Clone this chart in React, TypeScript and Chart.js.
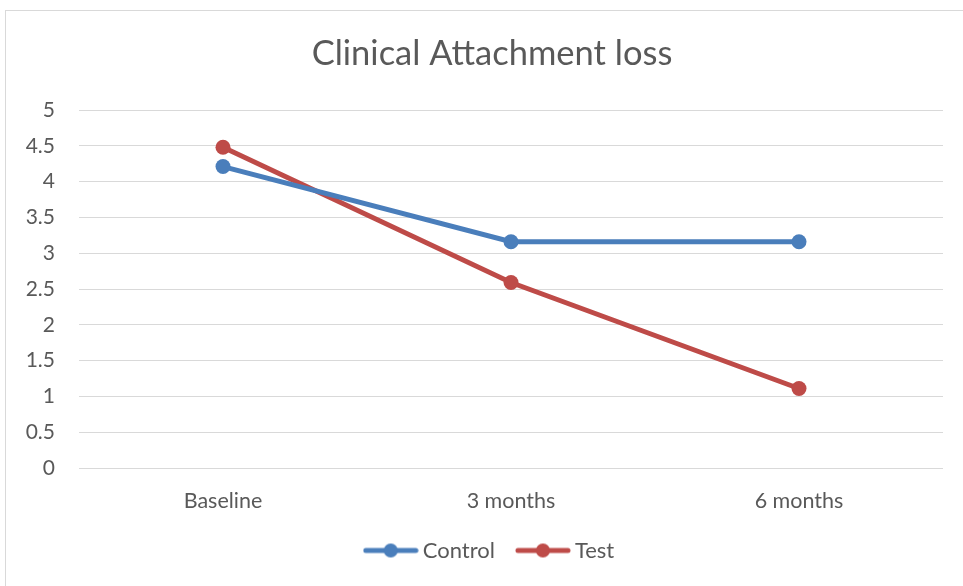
import React, { useEffect, useRef } from "react";
import { Chart, registerables } from "chart.js";

Chart.register(...registerables);

const categories = ["Baseline", "3 months", "6 months"];
const controlValues = [4.21, 3.16, 3.16];
const testValues = [4.48, 2.59, 1.11];
const seriesNames = ["Control", "Test"];
const seriesColors = ["#4A7EBB", "#BE4B48"];
const chartTitle = "Clinical Attachment loss";
const yMin = 0;
const yMax = 5;
const yStep = 0.5;

const FONT = "Lato, 'Open Sans', sans-serif";
const TEXT = "#595959";
const LEFT_PAD = 41;
const PLOT_LEFT = 79;
const Y_TICK_SIZE = 21;
const Y_LABEL_GAP = 24;

function legendIcon(color: string): HTMLCanvasElement {
  const c = document.createElement("canvas");
  c.width = 56;
  c.height = 16;
  const ctx = c.getContext("2d")!;
  ctx.strokeStyle = color;
  ctx.lineWidth = 5;
  ctx.lineCap = "round";
  ctx.beginPath();
  ctx.moveTo(3, 8);
  ctx.lineTo(53, 8);
  ctx.stroke();
  ctx.fillStyle = color;
  ctx.beginPath();
  ctx.arc(28, 8, 7, 0, Math.PI * 2);
  ctx.fill();
  return c;
}

function widestTick(): number {
  const c = document.createElement("canvas");
  const ctx = c.getContext("2d")!;
  ctx.font = `${Y_TICK_SIZE}px ${FONT}`;
  let w = 0;
  for (let v = yMin; v <= yMax + 1e-9; v += yStep) {
    w = Math.max(w, ctx.measureText(String(Math.round(v * 10) / 10)).width);
  }
  return w;
}

export default function App() {
  const ref = useRef<HTMLCanvasElement | null>(null);

  useEffect(() => {
    document.body.style.margin = "0";
    const icons = seriesColors.map(legendIcon);
    const widest = widestTick();
    const chart = new Chart(ref.current!, {
      type: "line",
      data: {
        labels: categories,
        datasets: [controlValues, testValues].map((vals, i) => ({
          label: seriesNames[i],
          data: vals,
          borderColor: seriesColors[i],
          backgroundColor: seriesColors[i],
          borderWidth: 5,
          pointStyle: "circle",
          pointRadius: 7.5,
          pointHoverRadius: 7.5,
          pointBorderWidth: 0,
          tension: 0,
        })),
      },
      options: {
        responsive: false,
        animation: false,
        devicePixelRatio: 1,
        layout: { padding: { left: LEFT_PAD, right: 20, top: 0, bottom: 14.5 } },
        plugins: {
          title: {
            display: true,
            text: chartTitle,
            color: TEXT,
            font: { family: FONT, size: 34.5, weight: "normal" },
            padding: { top: 33, bottom: 35.6 },
          },
          legend: {
            position: "bottom",
            labels: {
              color: TEXT,
              font: { family: FONT, size: 22 },
              usePointStyle: true,
              pointStyleWidth: 42,
              padding: 27,
              generateLabels: () =>
                seriesNames.map((n, i) => ({
                  text: n,
                  fillStyle: seriesColors[i],
                  strokeStyle: seriesColors[i],
                  pointStyle: icons[i] as any,
                  datasetIndex: i,
                  hidden: false,
                  lineWidth: 0,
                  fontColor: TEXT,
                })),
            },
          },
          tooltip: { enabled: false },
        },
        scales: {
          x: {
            offset: true,
            afterFit: (s: any) => {
              s.height = 44.5;
            },
            grid: { display: false, drawTicks: false },
            border: { display: false },
            ticks: { color: TEXT, font: { family: FONT, size: 21.5 }, padding: 20 },
          },
          y: {
            min: yMin,
            max: yMax,
            afterFit: (s: any) => {
              s.width = PLOT_LEFT - LEFT_PAD;
            },
            grid: { color: "#D9D9D9", lineWidth: 1, drawTicks: false },
            border: { display: false },
            ticks: {
              stepSize: yStep,
              mirror: true,
              crossAlign: "far",
              color: TEXT,
              font: { family: FONT, size: Y_TICK_SIZE },
              padding: -Y_LABEL_GAP - widest,
              callback: (v: any) => String(v),
            },
          },
        },
      },
    });
    return () => chart.destroy();
  }, []);

  return (
    <div style={{ position: "relative", width: 963, height: 586, overflow: "hidden", background: "#fff" }}>
      <div
        style={{
          position: "absolute",
          left: 5,
          top: 10,
          width: 980,
          height: 600,
          border: "1px solid #D9D9D9",
        }}
      />
      <canvas ref={ref} width={963} height={586} style={{ position: "absolute", left: 0, top: 0 }} />
    </div>
  );
}
